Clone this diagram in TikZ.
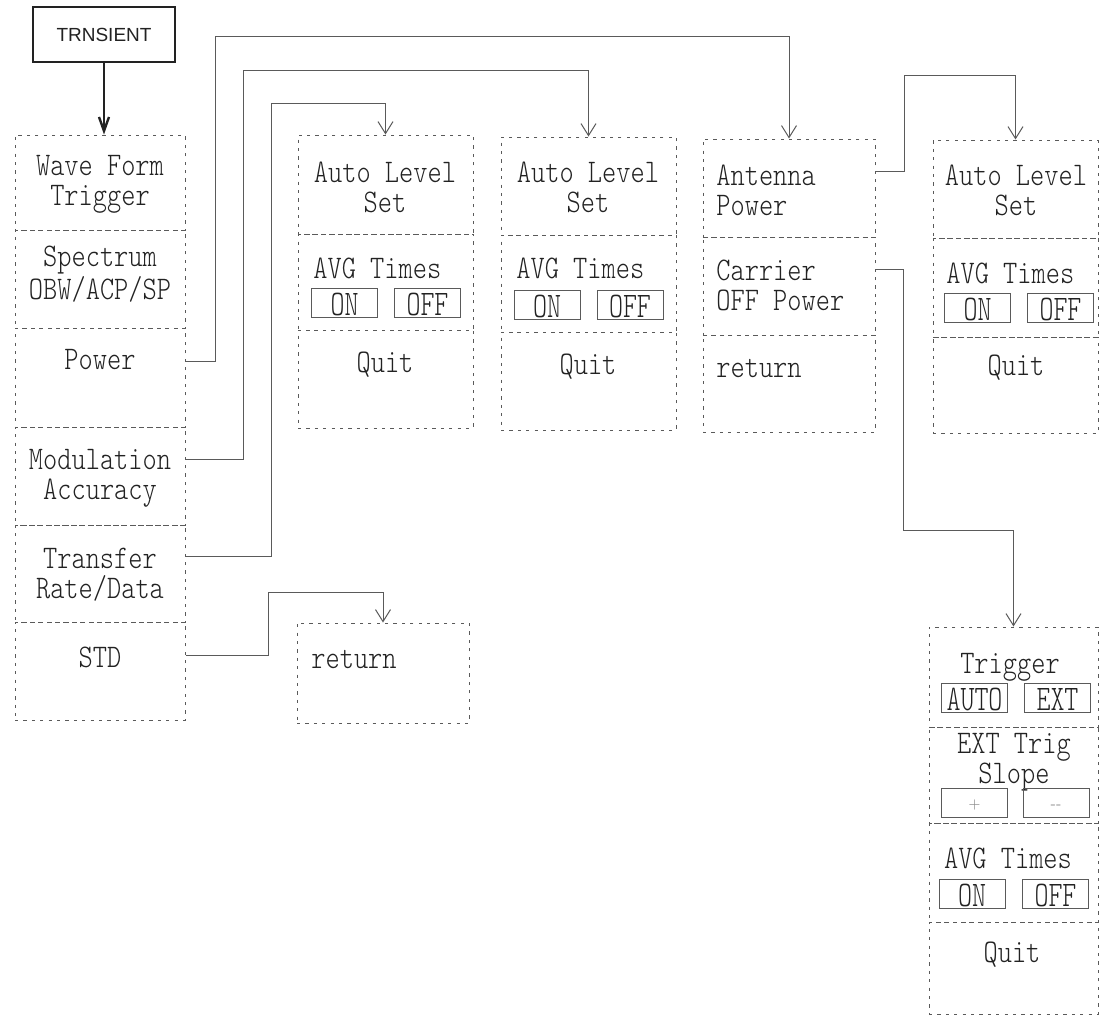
\documentclass[tikz,border=0pt]{standalone}
\usepackage{fontspec}
\usetikzlibrary{arrows.meta, positioning, fit, calc}
\newfontfamily\menufont[FakeStretch=0.82]{lmmonolt10-regular.otf}
\newfontfamily\keyfont[FakeStretch=0.74]{lmmonolt10-regular.otf}
\newfontfamily\headfont{Liberation Sans}
\definecolor{menuline}{HTML}{5A5A5A}
\definecolor{menuink}{HTML}{222222}

\begin{document}
\begin{tikzpicture}[x=0.5pt, y=-0.5pt,
  cell/.style={draw=menuline, dash pattern=on 1.6pt off 2.6pt, line width=0.5pt, inner sep=0pt},
  lbl/.style={font=\menufont\fontsize{16.5}{15}\selectfont, text=menuink, inner sep=0pt, align=center},
  lbll/.style={lbl, align=left, anchor=west},
  key/.style={draw=menuline, line width=0.5pt, minimum width=33pt, minimum height=14.5pt, inner sep=0pt, text height=12.5pt, text depth=0pt, font=\keyfont\fontsize{18}{18}\selectfont, text=menuink},
  link/.style={draw=menuline, line width=0.5pt, -{Straight Barb[length=6pt,width=7.5pt]}}
]
\useasboundingbox (0,0) rectangle (1105,1019);

% top entry
\node[draw=menuink, line width=1pt, minimum width=71pt, minimum height=27.5pt, font=\headfont\fontsize{9.5}{10}\selectfont, text=menuink] (trn) at (104,34.5) {TRNSIENT};

% main menu
\node[cell, fit={(15,135) (185,230)}] (wft) {};
\node[cell, fit={(15,230) (185,328)}] (spec) {};
\node[cell, fit={(15,328) (185,427)}] (pow) {};
\node[cell, fit={(15,427) (185,525)}] (mod) {};
\node[cell, fit={(15,525) (185,622)}] (xfer) {};
\node[cell, fit={(15,622) (185,720)}] (std) {};
\node[lbl] (wftT) at (100,184) {Wave Form\\Trigger};
\node[lbl] (specT) at (100,274) {Spectrum\\OBW/ACP/SP};
\node[lbl] (powT) at (100,360) {Power};
\node[lbl] (modT) at (100,478) {Modulation\\Accuracy};
\node[lbl] (xferT) at (100,575) {Transfer\\Rate/Data};
\node[lbl] (stdT) at (100,657) {STD};

% transfer rate submenu
\node[cell, fit={(298,135) (473,234)}] (alsA) {};
\node[cell, fit={(298,234) (473,330)}] (avgA) {};
\node[cell, fit={(298,330) (473,428)}] (quitA) {};
\node[lbl] (alsAT) at (385,187) {Auto Level\\Set};
\node[lbll] (avgAT) at (313,268) {AVG Times};
\node[key] (onA) at (344.5,303) {ON};
\node[key] (offA) at (427.5,303) {OFF};
\node[lbl] (quitAT) at (385,365) {Quit};

% modulation submenu
\node[cell, fit={(501,137) (676,235)}] (alsB) {};
\node[cell, fit={(501,235) (676,332)}] (avgB) {};
\node[cell, fit={(501,332) (676,430)}] (quitB) {};
\node[lbl] (alsBT) at (588,187) {Auto Level\\Set};
\node[lbll] (avgBT) at (516,268) {AVG Times};
\node[key] (onB) at (547,305) {ON};
\node[key] (offB) at (630,305) {OFF};
\node[lbl] (quitBT) at (588,367) {Quit};

% power submenu
\node[cell, fit={(703,139) (875,237)}] (ant) {};
\node[cell, fit={(703,237) (875,335)}] (car) {};
\node[cell, fit={(703,335) (875,432)}] (retC) {};
\node[lbll] (antT) at (716,190) {Antenna\\Power};
\node[lbll] (carT) at (716,285) {Carrier\\OFF Power};
\node[lbll] (retCT) at (716,368) {return};

% antenna power submenu
\node[cell, fit={(933,140) (1098,238)}] (alsD) {};
\node[cell, fit={(933,238) (1098,337)}] (avgD) {};
\node[cell, fit={(933,337) (1098,433)}] (quitD) {};
\node[lbl] (alsDT) at (1016,190) {Auto Level\\Set};
\node[lbll] (avgDT) at (946,273) {AVG Times};
\node[key] (onD) at (977.5,308) {ON};
\node[key] (offD) at (1060.5,308) {OFF};
\node[lbl] (quitDT) at (1016,368) {Quit};

% carrier off power submenu
\node[cell, fit={(929,627) (1098,727)}] (trg) {};
\node[cell, fit={(929,727) (1098,823)}] (slope) {};
\node[cell, fit={(929,823) (1098,922)}] (avgE) {};
\node[cell, fit={(929,922) (1098,1014)}] (quitE) {};
\node[lbl] (trgT) at (1010,667) {Trigger};
\node[key] (autoE) at (974.5,697.5) {AUTO};
\node[key] (extE) at (1057.5,697.5) {EXT};
\node[lbl] (slopeT) at (1014,762) {EXT Trig\\Slope};
\node[key, font=\scriptsize, text=black!45, text height=5pt] (plusE) at (974.5,803) {+};
\node[key, font=\scriptsize, text=black!45, text height=5pt] (minusE) at (1056,803) {-{}-};
\node[lbl] (avgET) at (1008,858) {AVG Times};
\node[key] (onE) at (972,893.5) {ON};
\node[key] (offE) at (1055.5,893.5) {OFF};
\node[lbl] (quitET) at (1012,955) {Quit};

% STD submenu
\node[cell, fit={(297,623) (469,723)}] (retS) {};
\node[lbll] (retST) at (311,659) {return};

% connectors
\draw[draw=menuink, line width=1.2pt, -{Straight Barb[length=7pt,width=5pt]}] (trn.south) -- (trn.south |- wft.north);
\draw[link] ($(pow.north east)+(0,34)$) -| (215,36) -| (ant.north);
\draw[link] ($(mod.north east)+(0,33)$) -| (243,70) -| (alsB.north);
\draw[link] ($(xfer.north east)+(0,32)$) -| (271,103) -| (alsA.north);
\draw[link] ($(std.north east)+(0,34)$) -| (268,592) -| (retS.north);
\draw[link] ($(ant.north east)+(0,33)$) -| (904,75) -| (alsD.north);
\draw[link] ($(car.north east)+(0,33)$) -| (903,530) -| (trg.north);
\end{tikzpicture}
\end{document}
